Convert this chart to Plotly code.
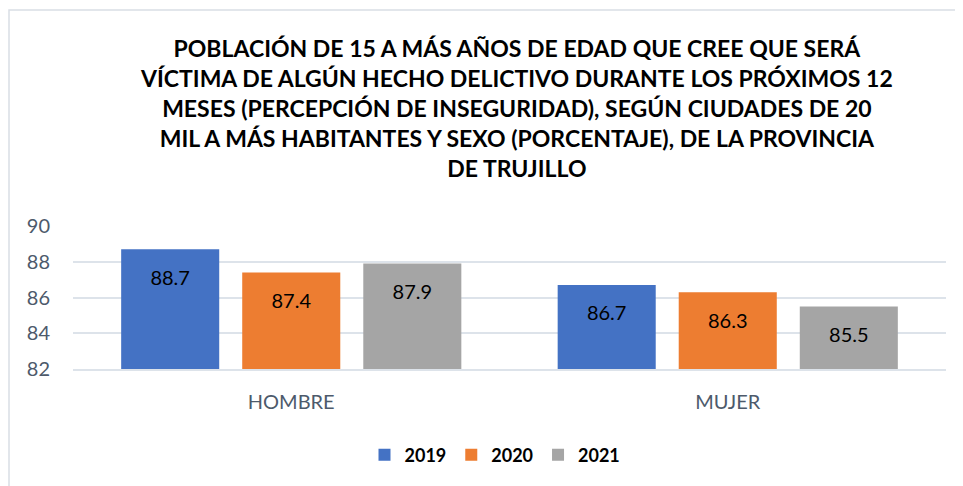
import plotly.graph_objects as go

categories = ["HOMBRE", "MUJER"]
years = ["2019", "2020", "2021"]
values_2019 = [88.7, 86.7]
values_2020 = [87.4, 86.3]
values_2021 = [87.9, 85.5]
y_ticks = [82, 84, 86, 88, 90]

title_lines = [
    "POBLACIÓN DE 15 A MÁS AÑOS DE EDAD QUE CREE QUE SERÁ",
    "VÍCTIMA DE ALGÚN HECHO DELICTIVO DURANTE LOS PRÓXIMOS 12",
    "MESES (PERCEPCIÓN DE INSEGURIDAD), SEGÚN CIUDADES DE 20",
    "MIL A MÁS HABITANTES Y SEXO (PORCENTAJE), DE LA PROVINCIA",
    "DE TRUJILLO",
]

series = [values_2019, values_2020, values_2021]
colors = ["#4472C4", "#ED7D31", "#A5A5A5"]
FONT = "Lato"
label_offset = 1.7  # data units below bar top

# target plot-area in screen px (page has 8px body margin)
PL, PR, PT, PB = 73, 946, 226, 369
OFF = 8
PW, PH = PR - PL, PB - PT

fig = go.Figure()
for name, vals, col in zip(years, series, colors):
    fig.add_trace(go.Bar(
        x=categories, y=vals, name=name, marker=dict(color=col, line=dict(width=0)),
        offsetgroup=name,
    ))
for name, vals in zip(years, series):
    fig.add_trace(go.Scatter(
        x=categories, y=[v - label_offset for v in vals], mode="text",
        text=[f"{v:.1f}" for v in vals], textposition="middle center",
        textfont=dict(family=FONT, size=20, color="#000000"),
        offsetgroup=name, showlegend=False, hoverinfo="skip",
    ))

fig.add_annotation(
    text="<br>".join(title_lines), xref="paper", yref="paper",
    x=(516 - PL) / PW, y=(PB - 32) / PH, xanchor="center", yanchor="top",
    showarrow=False, align="center",
    font=dict(family=FONT, size=23, color="#000000", weight="bold"),
)

fig.add_shape(type="rect", xref="paper", yref="paper",
              x0=(9 - PL) / PW, x1=(990 - PL) / PW,
              y0=(PB - 500) / PH, y1=(PB - 10) / PH,
              line=dict(color="#D9DEE5", width=1.5), fillcolor="rgba(0,0,0,0)", layer="below")

fig.update_layout(
    width=963, height=486,
    margin=dict(l=PL - OFF, r=963 - (PL - OFF) - PW, t=PT - OFF, b=486 - (PT - OFF) - PH),
    paper_bgcolor="white", plot_bgcolor="white",
    barmode="group", bargap=0.168, bargroupgap=0.19,
    scattermode="group", scattergap=0.168,
    showlegend=True,
    legend=dict(orientation="h", x=(495 - PL) / PW, xanchor="center",
                y=(PB - 455) / PH, yanchor="middle",
                font=dict(family=FONT, size=18, color="#000000", weight="bold"),
                traceorder="normal"),
    font=dict(family=FONT),
)
fig.update_yaxes(range=[82, 90], tickvals=y_ticks, showgrid=True,
                 gridcolor="#DDE3EA", gridwidth=1.5, zeroline=False,
                 tickfont=dict(family=FONT, size=20, color="#4D5A6B"),
                 ticks="outside", ticklen=18, tickcolor="rgba(0,0,0,0)", showline=False)
fig.update_xaxes(showline=True, linecolor="#DDE3EA", linewidth=1.5,
                 tickfont=dict(family=FONT, size=20, color="#4D5A6B"),
                 ticks="outside", ticklen=14, tickcolor="rgba(0,0,0,0)")

fig.write_html("out.html")
